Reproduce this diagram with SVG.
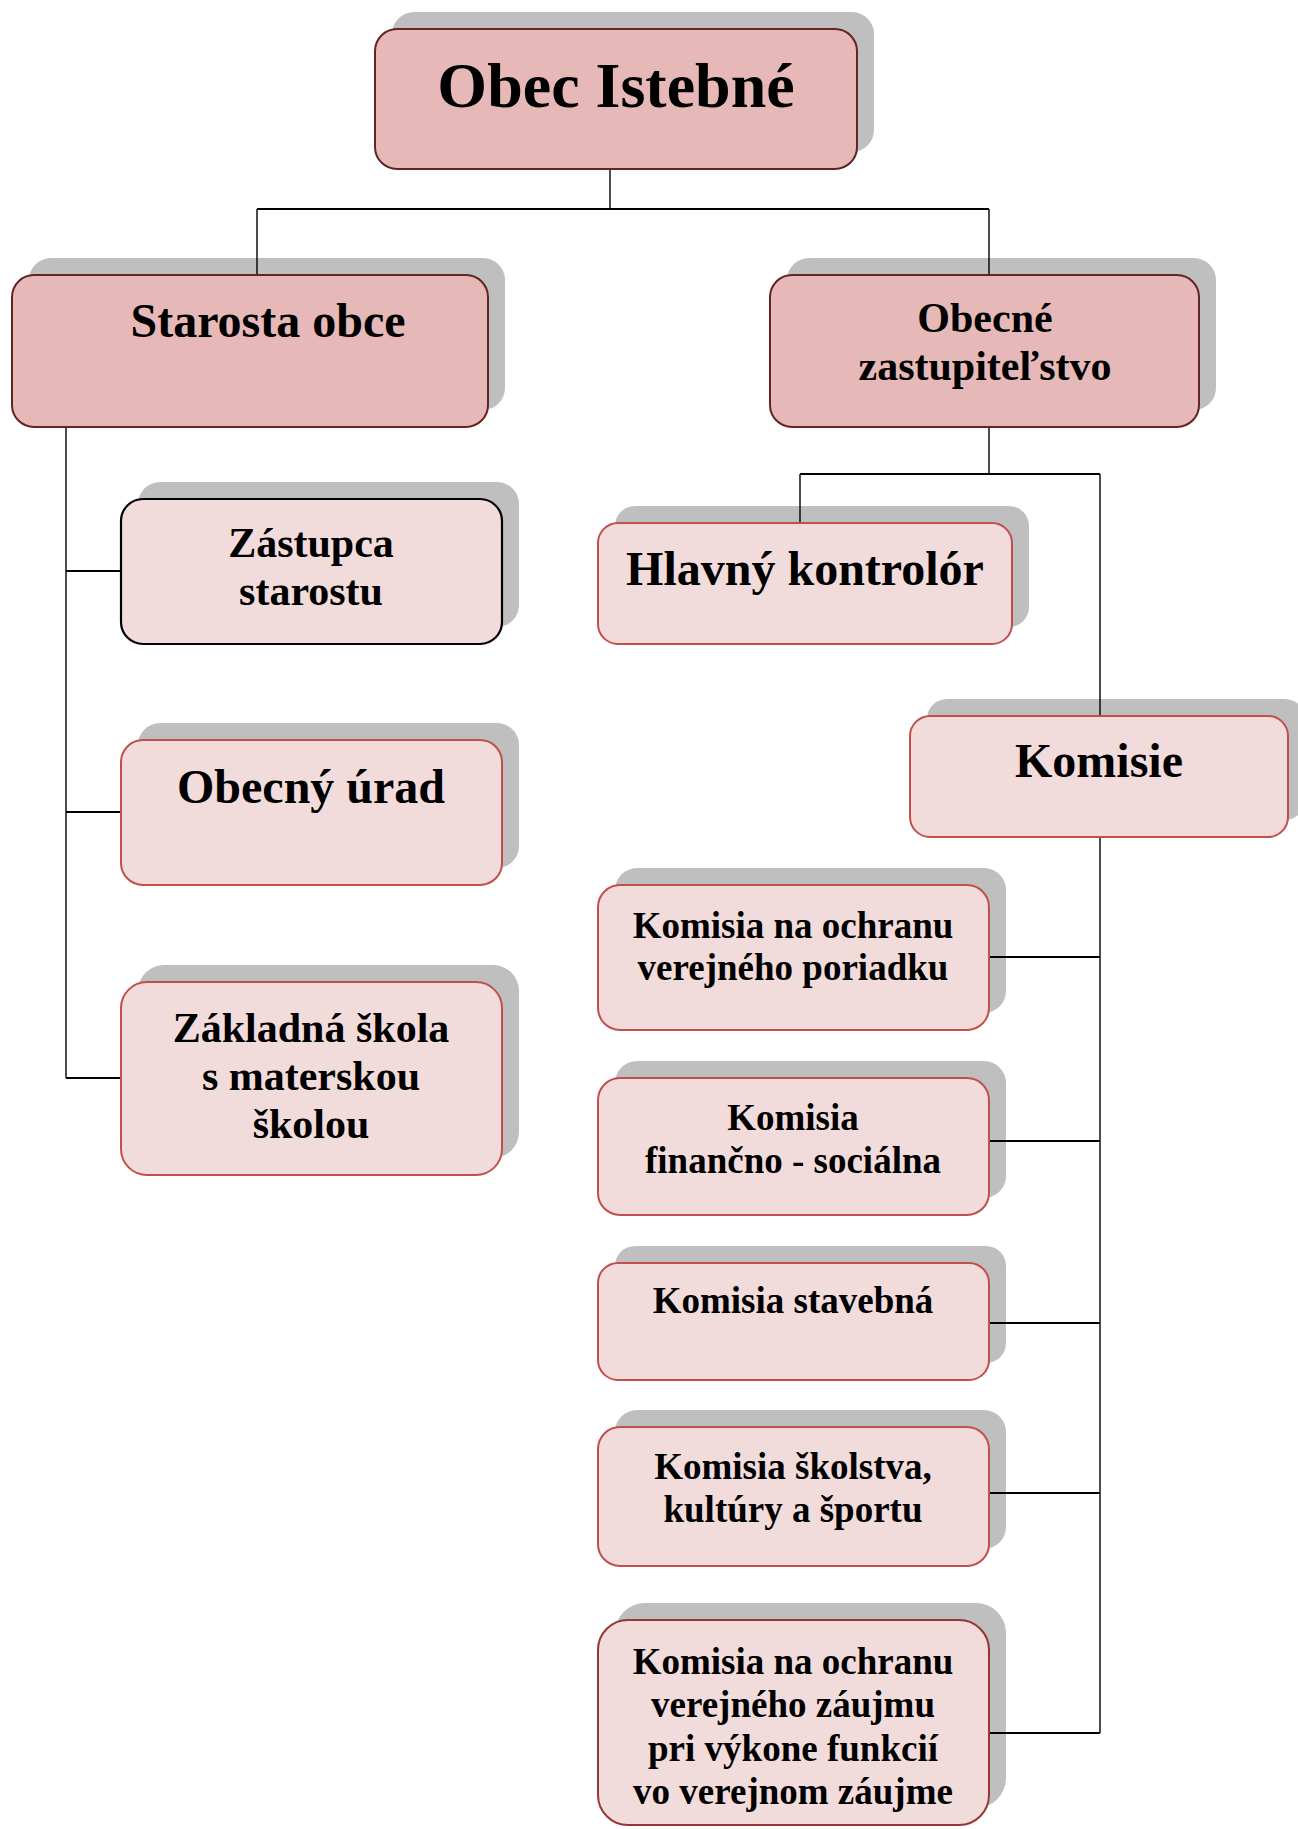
<svg xmlns="http://www.w3.org/2000/svg" width="1298" height="1829" viewBox="0 0 1298 1829">
<style>
.sh{fill:#bfbfbf}
.top{fill:#e6b9b8;stroke:#632523;stroke-width:2}
.sub{fill:#f2dcdb;stroke:#c0504d;stroke-width:2}
.blk{fill:#f2dcdb;stroke:#000;stroke-width:2.2}
.dk{fill:#f2dcdb;stroke:#953735;stroke-width:2}
text{font-family:"Liberation Serif","Times New Roman",serif;font-weight:bold;fill:#000;text-anchor:middle}
.ln{fill:none;stroke:#000;stroke-width:1.4}
.lh{fill:none;stroke:#000;stroke-width:2.2}
</style>
<rect width="1298" height="1829" fill="#fff"/>
<g id="n-obec">
<rect class="sh" x="392" y="12" width="482" height="140" rx="22"/>
<rect class="top" x="375" y="29" width="482" height="140" rx="22"/>
<text x="616" y="107" font-size="64">Obec Istebné</text>
</g>
<g id="n-starosta">
<rect class="sh" x="29" y="258" width="476" height="152" rx="22"/>
<rect class="top" x="12" y="275" width="476" height="152" rx="22"/>
<text x="268" y="337" font-size="48">Starosta obce</text>
</g>
<g id="n-zastupitelstvo">
<rect class="sh" x="787" y="258" width="429" height="152" rx="22"/>
<rect class="top" x="770" y="275" width="429" height="152" rx="22"/>
<text x="985" y="332" font-size="42">Obecné</text>
<text x="985" y="380" font-size="42">zastupiteľstvo</text>
</g>
<g id="n-zastupca">
<rect class="sh" x="138" y="482" width="381" height="145" rx="22"/>
<rect class="blk" x="121" y="499" width="381" height="145" rx="22"/>
<text x="311" y="557" font-size="42">Zástupca</text>
<text x="311" y="605" font-size="42">starostu</text>
</g>
<g id="n-urad">
<rect class="sh" x="138" y="723" width="381" height="145" rx="22"/>
<rect class="sub" x="121" y="740" width="381" height="145" rx="22"/>
<text x="311" y="803" font-size="48">Obecný úrad</text>
</g>
<g id="n-skola">
<rect class="sh" x="138" y="965" width="381" height="193" rx="26"/>
<rect class="sub" x="121" y="982" width="381" height="193" rx="26"/>
<text x="311" y="1042" font-size="42">Základná škola</text>
<text x="311" y="1090" font-size="42">s materskou</text>
<text x="311" y="1138" font-size="42">školou</text>
</g>
<g id="n-kontrolor">
<rect class="sh" x="615" y="506" width="414" height="121" rx="20"/>
<rect class="sub" x="598" y="523" width="414" height="121" rx="20"/>
<text x="805" y="585" font-size="48">Hlavný kontrolór</text>
</g>
<g id="n-komisie">
<rect class="sh" x="927" y="699" width="378" height="121" rx="20"/>
<rect class="sub" x="910" y="716" width="378" height="121" rx="20"/>
<text x="1099" y="777" font-size="48">Komisie</text>
</g>
<g id="n-poriadok">
<rect class="sh" x="615" y="868" width="391" height="145" rx="22"/>
<rect class="sub" x="598" y="885" width="391" height="145" rx="22"/>
<text x="793" y="938" font-size="37">Komisia na ochranu</text>
<text x="793" y="980" font-size="37">verejného poriadku</text>
</g>
<g id="n-financna">
<rect class="sh" x="615" y="1061" width="391" height="137" rx="22"/>
<rect class="sub" x="598" y="1078" width="391" height="137" rx="22"/>
<text x="793" y="1130" font-size="37">Komisia</text>
<text x="793" y="1173" font-size="37">finančno - sociálna</text>
</g>
<g id="n-stavebna">
<rect class="sh" x="615" y="1246" width="391" height="117" rx="20"/>
<rect class="sub" x="598" y="1263" width="391" height="117" rx="20"/>
<text x="793" y="1313" font-size="37">Komisia stavebná</text>
</g>
<g id="n-skolstvo">
<rect class="sh" x="615" y="1410" width="391" height="139" rx="22"/>
<rect class="sub" x="598" y="1427" width="391" height="139" rx="22"/>
<text x="793" y="1479" font-size="37">Komisia školstva,</text>
<text x="793" y="1522" font-size="37">kultúry a športu</text>
</g>
<g id="n-zaujem">
<rect class="sh" x="615" y="1603" width="391" height="205" rx="30"/>
<rect class="dk" x="598" y="1620" width="391" height="205" rx="30"/>
<text x="793" y="1674" font-size="37">Komisia na ochranu</text>
<text x="793" y="1717" font-size="37">verejného záujmu</text>
<text x="793" y="1761" font-size="37">pri výkone funkcií</text>
<text x="793" y="1804" font-size="37">vo verejnom záujme</text>
</g>
<g id="connectors">
<path class="ln" d="M610 170V209M257 209V274M989 209V274"/>
<path class="lh" d="M257 209H989"/>
<path class="ln" d="M66 428V1078"/>
<path class="lh" d="M66 571H120M66 812H120M66 1078H120"/>
<path class="ln" d="M989 428V474M800 474V522M1100 474V715"/>
<path class="lh" d="M800 474H1100"/>
<path class="ln" d="M1100 838V1733"/>
<path class="lh" d="M990 957H1100M990 1141H1100M990 1323H1100M990 1493H1100M990 1733H1100"/>
</g>
</svg>
